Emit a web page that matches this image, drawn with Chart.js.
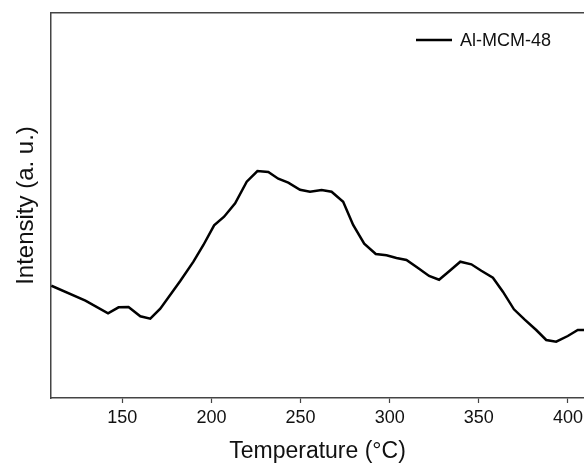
<!DOCTYPE html>
<html>
<head>
<meta charset="utf-8">
<style>
  html, body { margin: 0; padding: 0; background: #fff; }
  #wrap { width: 584px; height: 463px; }
</style>
<script src="https://cdn.jsdelivr.net/npm/chart.js@4/dist/chart.umd.min.js"></script>
</head>
<body>
<div id="wrap"><canvas id="tpd"></canvas></div>
<script>
// TPD curve of Al-MCM-48
const seriesName = 'Al-MCM-48';
const temps = [110.2, 129.3, 142.0, 147.9, 153.5, 160.1, 165.7, 171.3, 182.5, 189.9,
               195.5, 201.5, 207.1, 213.3, 219.8, 225.8, 231.9, 237.5, 243.1, 249.7,
               255.3, 261.8, 267.4, 273.9, 279.5, 285.7, 292.2, 298.2, 303.8, 309.4,
               315.9, 322.1, 327.7, 333.7, 339.6, 345.8, 351.4, 357.9, 363.5, 369.7,
               375.6, 382.2, 387.8, 393.4, 399.9, 405.5, 409.0];
const intensity = [112.3, 97.3, 84.7, 90.7, 91.0, 81.7, 79.3, 89.3, 117.0, 136.3,
                   153.0, 172.7, 181.3, 194.7, 216.3, 227.0, 226.0, 219.3, 215.3, 208.3,
                   206.3, 208.0, 206.3, 196.3, 173.0, 154.3, 144.0, 142.7, 140.0, 138.0,
                   130.0, 122.0, 118.3, 127.3, 136.3, 133.7, 127.3, 120.3, 106.3, 88.7,
                   78.7, 68.0, 58.0, 56.3, 62.0, 68.0, 68.0];
const xTicks = [150, 200, 250, 300, 350, 400];

const FONT = 'Arial, "Liberation Sans", Helvetica, sans-serif';

// legend drawn inside the plot, top right
const cornerLegend = {
  id: 'cornerLegend',
  afterDraw(chart) {
    const ctx = chart.ctx;
    const area = chart.chartArea;
    const ds = chart.data.datasets[0];
    const y = area.top + 27;
    const x0 = area.right - 168;
    ctx.save();
    ctx.strokeStyle = ds.borderColor;
    ctx.lineWidth = 2.5;
    ctx.beginPath();
    ctx.moveTo(x0, y);
    ctx.lineTo(x0 + 36, y);
    ctx.stroke();
    ctx.fillStyle = '#111';
    ctx.font = '18px ' + FONT;
    ctx.textBaseline = 'middle';
    ctx.fillText(ds.label, x0 + 44, y + 1);
    ctx.restore();
  }
};

new Chart(document.getElementById('tpd'), {
  type: 'line',
  data: {
    datasets: [{
      label: seriesName,
      data: temps.map((t, i) => ({ x: t, y: intensity[i] })),
      borderColor: '#000',
      borderWidth: 2.5,
      pointRadius: 0,
      tension: 0,
      fill: false
    }]
  },
  options: {
    responsive: true,
    maintainAspectRatio: false,
    animation: false,
    layout: { padding: { top: 13, right: 0, left: 0, bottom: 0 } },
    plugins: {
      legend: { display: false },
      tooltip: { enabled: false }
    },
    scales: {
      x: {
        type: 'linear',
        position: 'bottom',
        min: 110,
        max: 409,
        afterBuildTicks: (scale) => { scale.ticks = xTicks.map(v => ({ value: v })); },
        afterFit: (scale) => {
          scale.height = 65;
          scale.paddingLeft = 0;
          scale.paddingRight = 0;
        },
        grid: { display: true, drawOnChartArea: false, tickLength: 5, color: '#444', tickWidth: 1.2 },
        border: { display: true, color: '#444', width: 1.5 },
        ticks: { color: '#111', padding: 4, font: { family: FONT, size: 18 }, maxRotation: 0 },
        title: {
          display: true,
          text: 'Temperature (°C)',
          color: '#111',
          padding: 0,
          font: { family: FONT, size: 23, lineHeight: 1 }
        }
      },
      xTop: {
        type: 'linear',
        axis: 'x',
        position: 'top',
        afterFit: (scale) => { scale.height = 0; },
        grid: { display: false },
        ticks: { display: false },
        border: { display: true, color: '#444', width: 1.5 }
      },
      y: {
        type: 'linear',
        min: 0,
        max: 385,
        afterFit: (scale) => { scale.width = 51; },
        grid: { display: false },
        ticks: { display: false },
        border: { display: true, color: '#444', width: 1.5 },
        title: {
          display: true,
          text: 'Intensity (a. u.)',
          color: '#111',
          padding: { top: 12, bottom: 0 },
          font: { family: FONT, size: 24, lineHeight: 1.2 }
        }
      }
    }
  },
  plugins: [cornerLegend]
});
</script>
</body>
</html>
